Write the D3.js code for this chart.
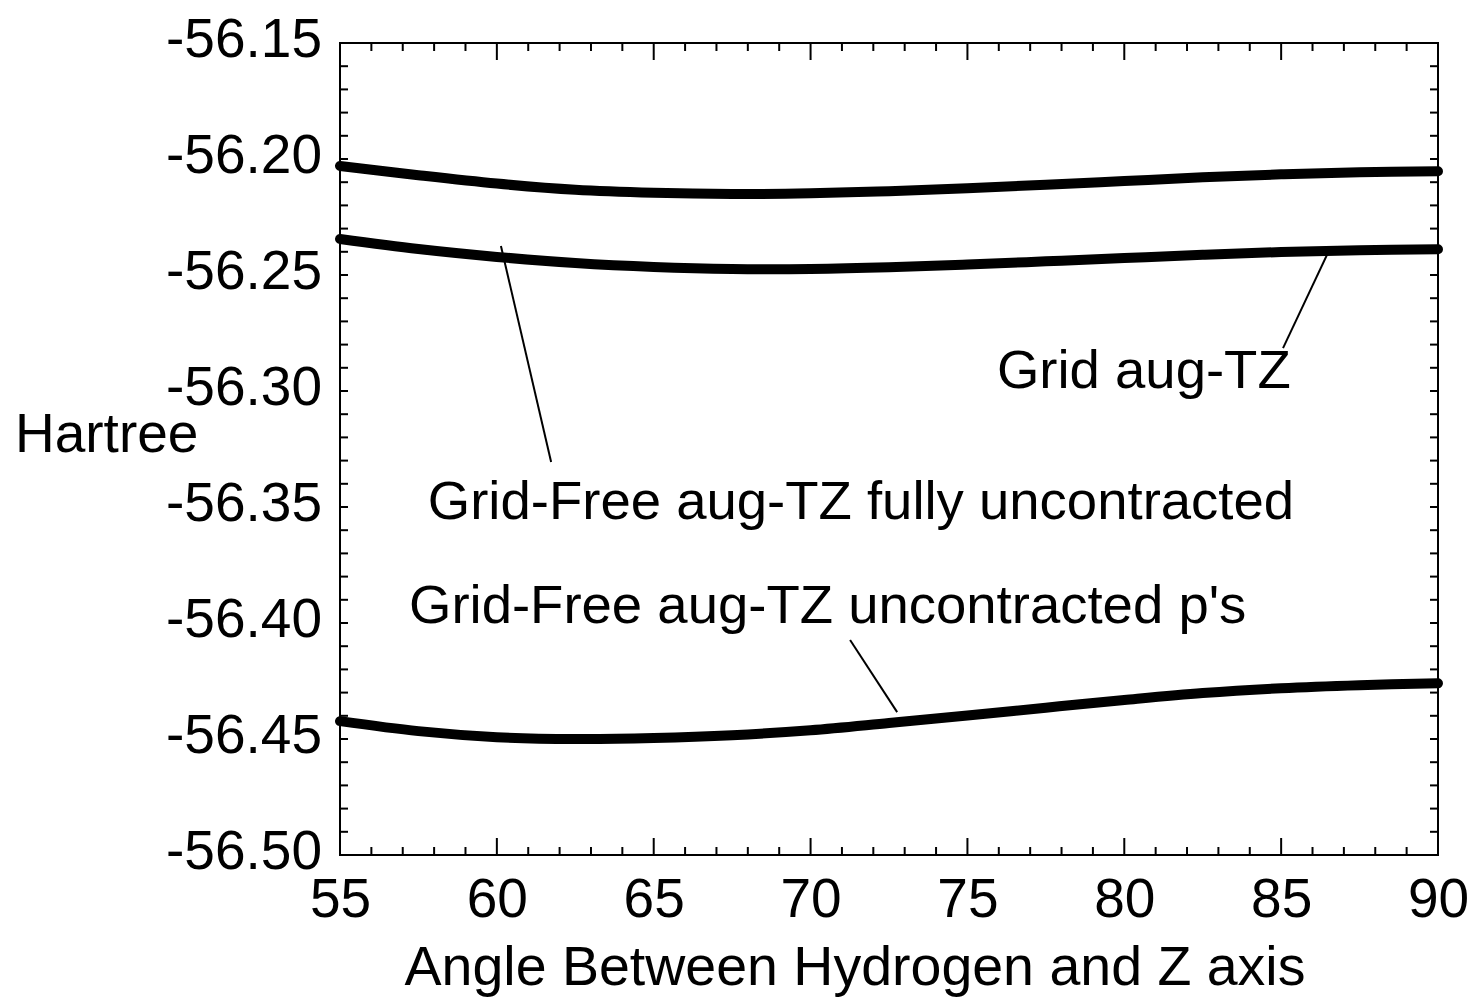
<!DOCTYPE html>
<html>
<head>
<meta charset="utf-8">
<script src="https://cdn.jsdelivr.net/npm/d3@7"></script>
<style>
  html, body { margin: 0; padding: 0; background: #fff; }
  svg { display: block; }
  text { font-family: "Liberation Sans", Arial, Helvetica, sans-serif; fill: #000; }
</style>
</head>
<body>
<svg id="chart" width="1470" height="1000"></svg>
<script>
// ---- data ----
const angles = [55, 57.5, 60, 62.5, 65, 67.5, 70, 72.5, 75, 77.5, 80, 82.5, 85, 87.5, 90];
const seriesTop = [-56.2030, -56.2070, -56.2106, -56.2133, -56.2146, -56.2151, -56.2148, -56.2139, -56.2126, -56.2111, -56.2095, -56.2079, -56.2066, -56.2057, -56.2053];
const seriesMid = [-56.2345, -56.2388, -56.2422, -56.2448, -56.2465, -56.2474, -56.2474, -56.2467, -56.2455, -56.2441, -56.2427, -56.2413, -56.2401, -56.2393, -56.2389];
const seriesLow = [-56.4423, -56.4466, -56.4492, -56.4500, -56.4496, -56.4484, -56.4462, -56.4431, -56.4399, -56.4365, -56.4332, -56.4302, -56.4281, -56.4268, -56.4260];
const xTickValues = [55, 60, 65, 70, 75, 80, 85, 90];
const yTickValues = [-56.15, -56.20, -56.25, -56.30, -56.35, -56.40, -56.45, -56.50];
const yTickLabels = ["-56.15", "-56.20", "-56.25", "-56.30", "-56.35", "-56.40", "-56.45", "-56.50"];
const xTitle = "Angle Between Hydrogen and Z axis";
const yTitle = "Hartree";
// annotations: text anchor (angle, energy) and leader line from/to (angle, energy)
const annoTexts = ["Grid aug-TZ", "Grid-Free aug-TZ fully uncontracted", "Grid-Free aug-TZ uncontracted p's"];
const annoTextPos = [[75.94, -56.2987], [57.80, -56.3550], [57.20, -56.4000]];
const annoLineFrom = [[85.06, -56.2815], [61.73, -56.3306], [71.26, -56.4073]];
const annoLineTo = [[86.49, -56.2405], [60.13, -56.2375], [72.76, -56.4384]];

// ---- layout ----
const svg = d3.select("#chart");
const pL = 340, pR = 1438, pT = 43, pB = 855;
const x = d3.scaleLinear().domain([55, 90]).range([pL, pR]);
const y = d3.scaleLinear().domain([-56.50, -56.15]).range([pB, pT]);

const FS = 55;

// frame
svg.append("rect")
  .attr("x", pL).attr("y", pT)
  .attr("width", pR - pL).attr("height", pB - pT)
  .attr("fill", "none").attr("stroke", "#000").attr("stroke-width", 2);

// minor/major ticks
const xMinor = d3.range(55, 90.001, 1);
const yMinor = d3.range(0, 36).map(i => -56.50 + i * 0.01);
const g = svg.append("g").attr("stroke", "#000").attr("stroke-width", 2);
xMinor.forEach(v => {
  const major = Math.abs(v % 5) < 1e-6;
  const len = major ? 17 : 8;
  g.append("line").attr("x1", x(v)).attr("x2", x(v)).attr("y1", pB).attr("y2", pB - len);
  g.append("line").attr("x1", x(v)).attr("x2", x(v)).attr("y1", pT).attr("y2", pT + len);
});
yMinor.forEach(v => {
  g.append("line").attr("x1", pL).attr("x2", pL + 8).attr("y1", y(v)).attr("y2", y(v));
  g.append("line").attr("x1", pR).attr("x2", pR - 8).attr("y1", y(v)).attr("y2", y(v));
});

// tick labels via axes (hidden tick lines)
const xAxis = d3.axisBottom(x).tickValues(xTickValues).tickSize(0).tickPadding(0).tickFormat(d3.format("d"));
const xa = svg.append("g").attr("transform", `translate(0,${pB})`).call(xAxis);
xa.select(".domain").remove();
xa.selectAll("text").attr("font-size", FS).attr("font-family", "Liberation Sans, Arial, sans-serif")
  .attr("fill", "#000").attr("y", 62).attr("dy", null);

const yAxis = d3.axisLeft(y).tickValues(yTickValues).tickSize(0).tickPadding(0)
  .tickFormat((d, i) => yTickLabels[i]);
const ya = svg.append("g").attr("transform", `translate(${pL},0)`).call(yAxis);
ya.select(".domain").remove();
ya.selectAll("text").attr("font-size", FS).attr("font-family", "Liberation Sans, Arial, sans-serif")
  .attr("fill", "#000").attr("x", -18).attr("dy", null).attr("y", 13);

// titles
svg.append("text").attr("x", 855).attr("y", 985)
  .attr("text-anchor", "middle").attr("font-size", 55.5).text(xTitle);
svg.append("text").attr("x", 15).attr("y", 452)
  .attr("text-anchor", "start").attr("font-size", FS).text(yTitle);

// series lines
const line = d3.line().x((d, i) => x(angles[i])).y(d => y(d)).curve(d3.curveCatmullRom.alpha(0.5));
[seriesTop, seriesMid, seriesLow].forEach(s => {
  svg.append("path").datum(s).attr("d", line)
    .attr("fill", "none").attr("stroke", "#000").attr("stroke-width", 10)
    .attr("stroke-linecap", "round").attr("stroke-linejoin", "round");
});

// annotations
annoTexts.forEach((t, i) => {
  svg.append("text").attr("x", x(annoTextPos[i][0])).attr("y", y(annoTextPos[i][1]))
    .attr("font-size", 54.5).text(t);
  svg.append("line")
    .attr("x1", x(annoLineFrom[i][0])).attr("y1", y(annoLineFrom[i][1]))
    .attr("x2", x(annoLineTo[i][0])).attr("y2", y(annoLineTo[i][1]))
    .attr("stroke", "#000").attr("stroke-width", 2);
});
</script>
</body>
</html>
